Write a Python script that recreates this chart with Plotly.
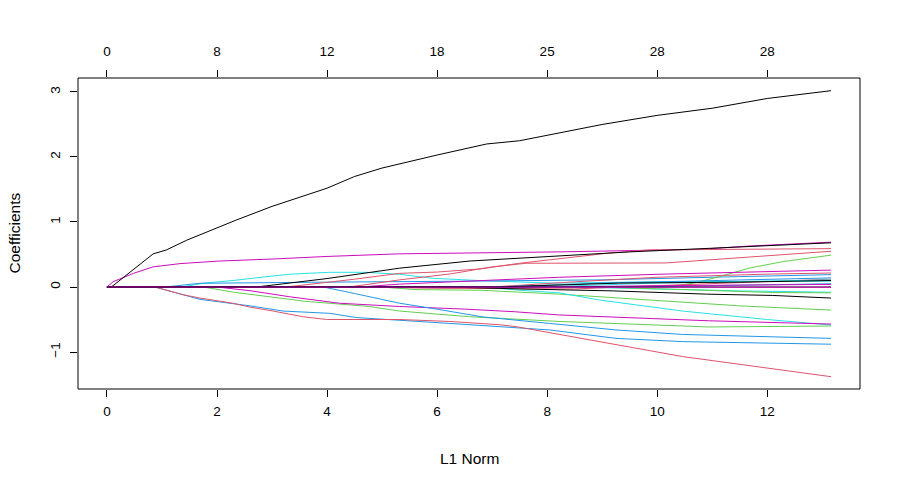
import plotly.graph_objects as go

# ---- data (glmnet coefficient paths) ----
l1_ticks = [0, 2, 4, 6, 8, 10, 12]
df_labels = ["0", "8", "12", "18", "25", "28", "28"]
coef_ticks = [-1, 0, 1, 2, 3]

v01_l1 = [0, 0.08, 0.84, 1.08, 1.45, 2.35, 3.0, 4.0, 4.5, 5.0, 6.0, 6.9, 7.5, 8.0, 9.0, 10.0, 11.0, 12.0, 13.16]
v01_c = [0, 0, 0.51, 0.57, 0.72, 1.03, 1.24, 1.52, 1.70, 1.83, 2.03, 2.20, 2.25, 2.33, 2.50, 2.64, 2.75, 2.90, 3.02]
v02_l1 = [0, 0.11, 0.48, 0.84, 1.33, 2.05, 3.0, 4.0, 5.3, 6.6, 8.2, 9.5, 10.8, 11.67, 13.16]
v02_c = [0, 0.08, 0.21, 0.31, 0.36, 0.40, 0.43, 0.47, 0.51, 0.52, 0.54, 0.56, 0.58, 0.63, 0.69]
v03_l1 = [0, 2.72, 4.0, 5.32, 6.6, 8.22, 9.5, 10.95, 12.0, 13.16]
v03_c = [0, 0, 0.13, 0.29, 0.40, 0.48, 0.54, 0.595, 0.63, 0.68]
v04_l1 = [0, 3.26, 4.5, 5.32, 6.0, 6.8, 7.5, 8.22, 9.1, 9.86, 11.5, 13.16]
v04_c = [0, 0, 0.12, 0.21, 0.23, 0.28, 0.365, 0.43, 0.52, 0.57, 0.58, 0.59]
v05_l1 = [0, 4.4, 5.32, 6.23, 7.0, 7.62, 10.16, 10.95, 12.0, 13.16]
v05_c = [0, 0, 0.11, 0.20, 0.31, 0.365, 0.37, 0.415, 0.48, 0.55]
v06_l1 = [0, 10.2, 10.7, 11.13, 11.67, 12.28, 13.16]
v06_c = [0, 0, 0.066, 0.16, 0.29, 0.39, 0.49]
v07_l1 = [0, 4.6, 5.32, 6.5, 7.44, 8.22, 10.2, 13.16]
v07_c = [0, 0, 0.045, 0.09, 0.13, 0.15, 0.20, 0.26]
v08_l1 = [0, 7.0, 8.5, 10.0, 12.1, 13.16]
v08_c = [0, 0, 0.08, 0.15, 0.20, 0.215]
v09_l1 = [0, 1.05, 1.69, 2.6, 4.0, 6.6, 9.0, 11.5, 13.16]
v09_c = [0, 0, 0.057, 0.066, 0.075, 0.09, 0.11, 0.16, 0.19]
v10_l1 = [0, 1.36, 1.74, 2.29, 3.02, 3.38, 4.05, 4.71, 5.32, 5.92, 6.83, 8.1, 10.0, 13.16]
v10_c = [0, 0, 0.057, 0.10, 0.17, 0.20, 0.226, 0.226, 0.195, 0.134, 0.097, 0.06, 0.08, 0.09]
v11_l1 = [0, 7.0, 9.0, 11.0, 13.16]
v11_c = [0, 0, 0.06, 0.10, 0.14]
v12_l1 = [0, 4.5, 6.0, 8.5, 10.0, 13.16]
v12_c = [0, 0, -0.02, -0.03, 0.02, 0.12]
v13_l1 = [0, 4.2, 5.5, 7.1, 9.3, 11.5, 13.16]
v13_c = [0, 0, -0.01, 0.0, 0.06, 0.075, 0.10]
v14_l1 = [0, 6.2, 7.5, 9.2, 10.9, 12.1, 13.16]
v14_c = [0, 0, -0.03, -0.06, -0.11, -0.13, -0.17]
v15_l1 = [0, 8.5, 10.0, 11.5, 13.16]
v15_c = [0, 0, -0.03, -0.06, -0.08]
v16_l1 = [0, 1.75, 2.3, 2.96, 3.6, 4.77, 5.32, 6.59, 8.22, 10.95, 13.16]
v16_c = [0, 0, -0.08, -0.15, -0.22, -0.30, -0.37, -0.457, -0.53, -0.615, -0.60]
v17_l1 = [0, 5.0, 5.6, 6.8, 8.22, 9.86, 11.5, 13.16]
v17_c = [0, 0, -0.04, -0.05, -0.11, -0.20, -0.29, -0.355]
v18_l1 = [0, 6.9, 7.44, 8.22, 8.95, 10.46, 12.0, 13.16]
v18_c = [0, 0, -0.046, -0.09, -0.20, -0.37, -0.50, -0.585]
v19_l1 = [0, 2.0, 2.6, 3.32, 4.23, 5.32, 6.5, 7.4, 8.22, 10.95, 13.16]
v19_c = [0, 0, -0.057, -0.15, -0.25, -0.30, -0.34, -0.38, -0.43, -0.52, -0.57]
v20_l1 = [0, 0.87, 1.69, 2.6, 3.2, 4.05, 4.53, 5.32, 6.23, 8.04, 9.25, 10.46, 13.16]
v20_c = [0, 0, -0.19, -0.29, -0.37, -0.405, -0.47, -0.51, -0.56, -0.66, -0.79, -0.84, -0.88]
v21_l1 = [0, 3.93, 4.5, 5.32, 5.92, 6.83, 8.04, 9.25, 10.46, 13.16]
v21_c = [0, 0, -0.10, -0.25, -0.33, -0.46, -0.56, -0.66, -0.73, -0.79]
v22_l1 = [0, 0.87, 1.39, 1.69, 2.29, 2.6, 3.02, 3.56, 3.99, 5.32, 6.23, 7.13, 7.44, 8.65, 10.46, 13.16]
v22_c = [0, 0, -0.12, -0.17, -0.25, -0.31, -0.37, -0.457, -0.50, -0.50, -0.53, -0.58, -0.61, -0.79, -1.07, -1.38]
v23_l1 = [0, 8.8, 10.5, 12.1, 13.16]
v23_c = [0, 0, -0.04, -0.085, -0.09]
v24_l1 = [0, 7.8, 10.0, 13.16]
v24_c = [0, 0, 0.06, 0.11]
v25_l1 = [0, 9.5, 13.16]
v25_c = [0, 0, 0.05]
v26_l1 = [0, 8.0, 10.0, 13.16]
v26_c = [0, 0, 0.02, 0.04]
v27_l1 = [0, 13.16]
v27_c = [0, 0]
v28_l1 = [0, 10.0, 13.16]
v28_c = [0, 0, -0.005]

# R default palette (colour index per path)
pal = {"k": "#000000", "r": "#DF536B", "g": "#61D04F", "b": "#2297E6", "c": "#28E2E5", "m": "#CD0BBC"}
paths = [
    (v02_l1, v02_c, "m"), (v10_l1, v10_c, "c"), (v09_l1, v09_c, "b"),
    (v04_l1, v04_c, "r"), (v05_l1, v05_c, "r"), (v06_l1, v06_c, "g"),
    (v07_l1, v07_c, "m"), (v08_l1, v08_c, "r"), (v11_l1, v11_c, "b"),
    (v12_l1, v12_c, "r"), (v15_l1, v15_c, "c"), (v16_l1, v16_c, "g"),
    (v17_l1, v17_c, "g"), (v18_l1, v18_c, "c"), (v19_l1, v19_c, "m"),
    (v20_l1, v20_c, "b"), (v21_l1, v21_c, "b"), (v22_l1, v22_c, "r"),
    (v23_l1, v23_c, "g"), (v24_l1, v24_c, "c"), (v25_l1, v25_c, "b"),
    (v26_l1, v26_c, "m"), (v13_l1, v13_c, "k"), (v14_l1, v14_c, "k"),
    (v03_l1, v03_c, "k"), (v01_l1, v01_c, "k"), (v27_l1, v27_c, "k"),
    (v28_l1, v28_c, "m"),
]

fig = go.Figure()
for xs, ys, col in paths:
    fig.add_trace(go.Scatter(x=xs, y=ys, mode="lines", line=dict(color=pal[col], width=1),
                             showlegend=False, hoverinfo="skip"))

FONT = "Arial, Liberation Sans, sans-serif"
TICKFONT = dict(family=FONT, size=13.5, color="black")
xr = [-0.5264, 13.686]
yr = [-1.569, 3.215]

fig.update_layout(
    width=902, height=487,
    margin=dict(l=78, r=42, t=78, b=98),
    paper_bgcolor="white", plot_bgcolor="white",
    font=dict(family=FONT, size=13, color="black"),
    xaxis=dict(range=xr, tickvals=l1_ticks, ticks="outside", ticklen=7, tickcolor="black",
               showgrid=False, zeroline=False, showline=False, ticklabelstandoff=3,
               tickfont=TICKFONT),
    xaxis2=dict(range=xr, overlaying="x", side="top", anchor="y", tickvals=l1_ticks, ticktext=df_labels,
                ticks="outside", ticklen=7, tickcolor="black", showgrid=False, zeroline=False, showline=False,
                ticklabelstandoff=9, tickfont=TICKFONT),
    yaxis=dict(range=yr, tickvals=coef_ticks, ticks="outside", ticklen=7, tickcolor="black", tickangle=-90,
               showgrid=False, zeroline=False, showline=False, ticklabelstandoff=5,
               tickfont=TICKFONT),
    shapes=[dict(type="rect", xref="paper", yref="paper", x0=0, x1=1, y0=0, y1=1,
                 line=dict(color="black", width=1))],
    annotations=[
        dict(text="L1 Norm", xref="paper", yref="paper", x=0.5, y=(389 - 458) / 311.0,
             xanchor="center", yanchor="middle", showarrow=False, font=dict(family=FONT, size=15.5)),
        dict(text="Coefficients", xref="paper", yref="paper", x=(14 - 78) / 782.0, y=0.5,
             xanchor="center", yanchor="middle", textangle=-90, showarrow=False,
             font=dict(family=FONT, size=15.5)),
    ],
)
# an empty trace so the top (degrees-of-freedom) axis is drawn
fig.add_trace(go.Scatter(x=[], y=[], xaxis="x2", showlegend=False, hoverinfo="skip"))

fig.write_html("out.html", config={"displayModeBar": False},
               post_script="document.body.style.margin='0';")
